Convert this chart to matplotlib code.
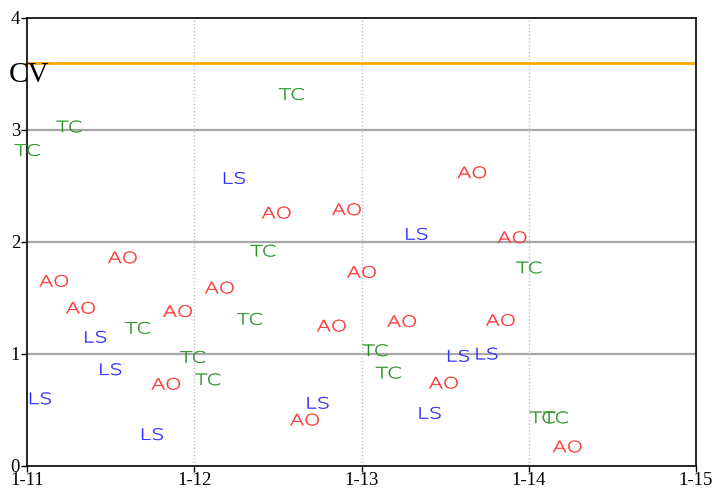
"""Text-marker scatter (AO / TC / LS) over five January days with a CV reference line."""

import matplotlib

matplotlib.use("Agg")
import matplotlib.pyplot as plt
import matplotlib.transforms as mtransforms
from matplotlib.font_manager import FontProperties
from matplotlib.patches import PathPatch
from matplotlib.textpath import TextPath

# x = day of January (fractional), y = value
ao_x = [13.66, 12.49, 12.91, 13.90, 11.57, 11.16, 13.00, 12.15, 11.32, 11.90,
        12.82, 13.24, 13.83, 11.83, 13.49, 12.66, 14.23]
ao_y = [2.62, 2.26, 2.29, 2.04, 1.86, 1.65, 1.73, 1.59, 1.41, 1.38,
        1.25, 1.29, 1.30, 0.73, 0.74, 0.41, 0.17]

tc_x = [12.58, 11.25, 11.00, 12.41, 14.00, 11.66, 12.33, 11.99, 12.08, 13.08,
        13.16, 14.08, 14.16]
tc_y = [3.32, 3.03, 2.82, 1.92, 1.77, 1.23, 1.31, 0.97, 0.77, 1.03,
        0.83, 0.43, 0.43]

ls_x = [12.24, 13.33, 11.41, 11.50, 11.08, 11.75, 12.74, 13.58, 13.75, 13.41]
ls_y = [2.57, 2.07, 1.15, 0.86, 0.60, 0.28, 0.56, 0.98, 1.00, 0.47]

cv_level = 3.6
x_ticks = [11, 12, 13, 14, 15]
x_labels = [f"1-{d}" for d in x_ticks]
y_ticks = [0, 1, 2, 3, 4]

series = [
    ("AO", ao_x, ao_y, "#ff2e2e"),
    ("TC", tc_x, tc_y, "#239023"),
    ("LS", ls_x, ls_y, "#2828ff"),
]

MARK_FONT = FontProperties(family="DejaVu Sans", weight="light")


def text_marker(ax, x, y, label, color):
    # wide, thin lettering centred on the data point (pixel-sized glyphs)
    tp = TextPath((0, 0), label, size=15.5, prop=MARK_FONT)
    bb = tp.get_extents()
    cx, cy = (bb.x0 + bb.x1) / 2, (bb.y0 + bb.y1) / 2
    tr = (mtransforms.Affine2D().translate(-cx, -cy).scale(1.36, 1.0)
          + mtransforms.ScaledTranslation(x, y, ax.transData))
    patch = PathPatch(tp, transform=tr, facecolor=color, edgecolor=color,
                      linewidth=0.3, clip_on=False, zorder=3)
    ax.add_artist(patch)


def main() -> None:
    fig = plt.figure(figsize=(7.17, 4.90), dpi=100)
    ax = fig.add_axes([0.0377, 0.05, 0.933, 0.9133])

    for y in [1, 2, 3]:
        ax.axhline(y, color="#a8a8a8", linewidth=1.6, zorder=1)
    for x in [12, 13, 14]:
        ax.axvline(x, color="#c0c0c0", linewidth=1.0, linestyle=(0, (1, 1.5)), zorder=1)

    ax.axhline(cv_level, color="#ffa500", linewidth=2.0, zorder=2)
    trans = mtransforms.blended_transform_factory(ax.transAxes, ax.transData)
    ax.text(-0.028, cv_level + 0.01, "CV", transform=trans, ha="left", va="top",
            fontsize=21, family="Liberation Serif", color="black")

    for label, xs, ys, color in series:
        for x, y in zip(xs, ys):
            text_marker(ax, x, y, label, color)

    ax.set_xlim(11, 15)
    ax.set_ylim(0, 4)
    ax.set_xticks(x_ticks)
    ax.set_xticklabels(x_labels)
    ax.set_yticks(y_ticks)
    for lbl in ax.get_xticklabels() + ax.get_yticklabels():
        lbl.set_family("Liberation Serif")
        lbl.set_fontsize(13.5)
    ax.tick_params(axis="both", direction="out", length=4, width=1, color="black", pad=1)

    for sp in ax.spines.values():
        sp.set_color("black")
        sp.set_linewidth(1.2)

    fig.savefig("out.png", dpi=100)


if __name__ == "__main__":
    main()
